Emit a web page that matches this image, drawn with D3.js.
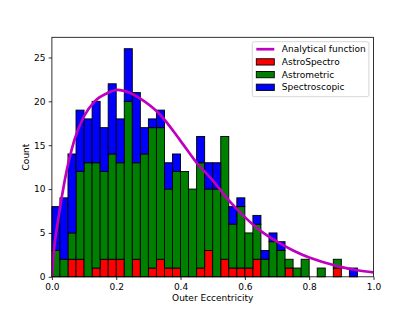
<!DOCTYPE html>
<html>
<head>
<meta charset="utf-8">
<script src="https://d3js.org/d3.v7.min.js"></script>
<style>
body { margin: 0; background: #ffffff; }
svg text { font-family: "DejaVu Sans", sans-serif; font-size: 9px; fill: #000000; }
</style>
</head>
<body>
<script>

// 40 bins of width 0.025 on [0, 1], counts per bin
var binWidth = 0.025;
var astroSpectro  = [0,0,2,2,0,1,2,2,2,0, 2,0,1,2,1,1,0,0,1,3, 0,2,1,1,1,2,0,0,0,1, 0,0,0,0,0,1,0,0,0,0];
var astrometric   = [3,2,3,10,13,12,10,12,11,20, 11,14,16,15,9,11,12,10,12,7, 10,14,5,7,4,4,2,4,3,1, 1,2,0,1,0,1,0,0,0,0];
var spectroscopic = [5,7,9,7,5,7,5,8,5,6, 8,3,1,2,3,2,0,0,3,3, 3,0,2,1,0,1,1,1,1,0, 0,0,0,0,0,0,0,1,0,0];

// analytical function
var curveE     = [0, 0.005, 0.02, 0.04, 0.07, 0.10, 0.133, 0.17, 0.205, 0.24, 0.275, 0.336, 0.40, 0.45, 0.50, 0.55, 0.60, 0.65, 0.70, 0.75, 0.80, 0.85, 0.90, 0.95, 1.0];
var curveCount = [0, 2.5, 6.6, 11.0, 15.6, 18.3, 20.0, 20.9, 21.3, 21.0, 20.3, 18.5, 15.5, 13.0, 11.0, 8.7, 6.8, 5.2, 4.0, 3.0, 2.2, 1.6, 1.1, 0.75, 0.5];

var xTicks = [0, 0.2, 0.4, 0.6, 0.8, 1.0];
var yTicks = [0, 5, 10, 15, 20, 25];
var seriesNames  = ["AstroSpectro", "Astrometric", "Spectroscopic"];
var seriesColors = ["#ff0000", "#008000", "#0000ff"];
var curveName = "Analytical function";

var W = 415, H = 311;
var margin = {top: 37.3, right: 41.5, bottom: 34.2, left: 51.9},
    width = W - margin.left - margin.right,
    height = H - margin.top - margin.bottom;

var rows = astroSpectro.map(function(d, i) {
  return {bin: i * binWidth, AstroSpectro: d, Astrometric: astrometric[i], Spectroscopic: spectroscopic[i]};
});

var xScale = d3.scaleLinear().domain([0, 1]).range([0, width]);
var yScale = d3.scaleLinear().domain([0, 27.3]).range([height, 0]);

var svg = d3.select("body").append("svg")
    .attr("width", W)
    .attr("height", H)
  .append("g")
    .attr("transform", "translate(" + margin.left + "," + margin.top + ")");

svg.append("clipPath").attr("id", "plot-clip")
  .append("rect").attr("width", width).attr("height", height);

// stacked bars
var stacked = d3.stack().keys(seriesNames)(rows);

svg.selectAll(".series")
    .data(stacked)
  .enter().append("g")
    .attr("class", "series")
    .attr("fill", function(d, i) { return seriesColors[i]; })
  .selectAll("rect")
    .data(function(d) { return d.filter(function(s) { return s[1] > s[0]; }); })
  .enter().append("rect")
    .attr("x", function(d) { return xScale(d.data.bin); })
    .attr("width", function(d) { return xScale(d.data.bin + binWidth) - xScale(d.data.bin); })
    .attr("y", function(d) { return yScale(d[1]); })
    .attr("height", function(d) { return yScale(d[0]) - yScale(d[1]); })
    .attr("stroke", "#000000")
    .attr("stroke-width", 0.9);

// analytical curve
var line = d3.line()
    .x(function(d, i) { return xScale(curveE[i]); })
    .y(function(d) { return yScale(d); })
    .curve(d3.curveMonotoneX);

svg.append("path")
    .datum(curveCount)
    .attr("clip-path", "url(#plot-clip)")
    .attr("d", line)
    .attr("fill", "none")
    .attr("stroke", "#bf00bf")
    .attr("stroke-width", 2.7);

// axes
var xAxis = d3.axisBottom(xScale).tickValues(xTicks).tickFormat(d3.format(".1f")).tickSize(3.2).tickPadding(3.2);
var yAxis = d3.axisLeft(yScale).tickValues(yTicks).tickFormat(d3.format("d")).tickSize(3.2).tickPadding(3.2);

var gx = svg.append("g")
    .attr("transform", "translate(0," + height + ")")
    .call(xAxis);
var gy = svg.append("g").call(yAxis);

[gx, gy].forEach(function(g) {
  g.attr("font-family", "DejaVu Sans").attr("font-size", 9);
  g.select(".domain").remove();
  g.selectAll(".tick line").attr("stroke", "#000000").attr("stroke-width", 0.8);
  g.selectAll(".tick text").attr("fill", "#000000");
});

// frame
svg.append("rect")
    .attr("width", width)
    .attr("height", height)
    .attr("fill", "none")
    .attr("stroke", "#000000")
    .attr("stroke-width", 0.8);

// axis labels
svg.append("text")
    .attr("x", width / 2)
    .attr("y", height + 24.7)
    .attr("text-anchor", "middle")
    .text("Outer Eccentricity");

svg.append("text")
    .attr("transform", "translate(" + (29 - margin.left) + "," + (height / 2) + ") rotate(-90)")
    .attr("text-anchor", "middle")
    .text("Count");

// legend
var legend = svg.append("g")
    .attr("transform", "translate(" + (252.3 - margin.left) + "," + (41.7 - margin.top) + ")");

legend.append("rect")
    .attr("width", 116.6)
    .attr("height", 55)
    .attr("rx", 2)
    .attr("fill", "#ffffff")
    .attr("fill-opacity", 0.8)
    .attr("stroke", "#cccccc")
    .attr("stroke-width", 0.8);

var rowY = [7.5, 20.2, 32.9, 45.6];

legend.append("line")
    .attr("x1", 4).attr("x2", 22)
    .attr("y1", rowY[0]).attr("y2", rowY[0])
    .attr("stroke", "#bf00bf")
    .attr("stroke-width", 2.7);
legend.append("text")
    .attr("x", 29.5).attr("y", rowY[0]).attr("dy", "0.35em")
    .text(curveName);

seriesNames.forEach(function(name, i) {
  legend.append("rect")
      .attr("x", 4).attr("y", rowY[i + 1] - 3.15)
      .attr("width", 18).attr("height", 6.3)
      .attr("fill", seriesColors[i])
      .attr("stroke", "#000000")
      .attr("stroke-width", 0.9);
  legend.append("text")
      .attr("x", 29.5).attr("y", rowY[i + 1]).attr("dy", "0.35em")
      .text(name);
});

</script>
</body>
</html>
